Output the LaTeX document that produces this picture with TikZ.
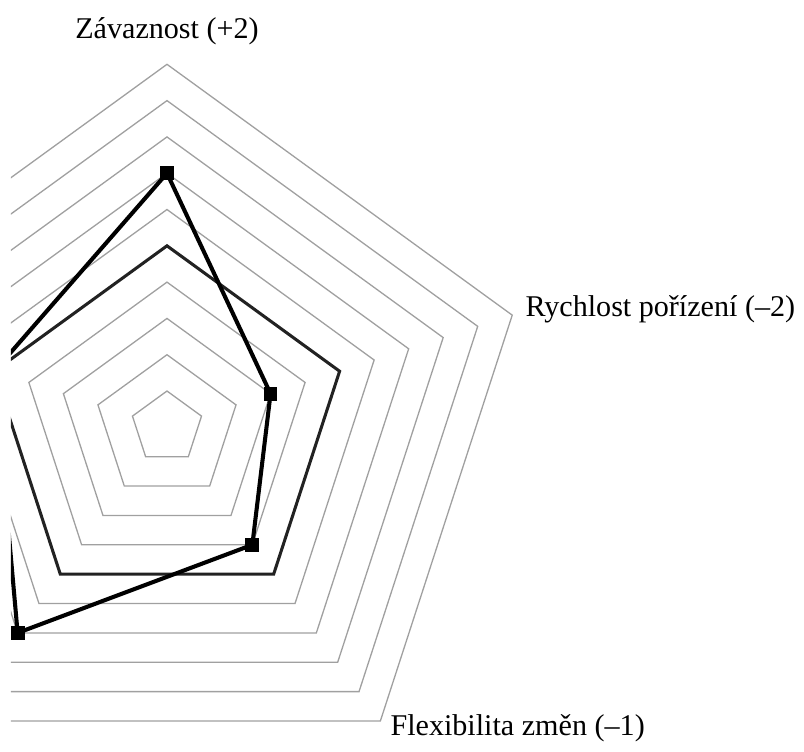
\documentclass[tikz,border=0pt]{standalone}
\usepackage{fontspec}
\setmainfont{Liberation Serif}
\begin{document}
\begin{tikzpicture}[
    ringline/.style={line width=0.018cm, draw={rgb,255:red,160;green,160;blue,160}, line join=miter},
    zeroring/.style={line width=0.042cm, draw={rgb,255:red,34;green,34;blue,34}, line join=miter},
    dataline/.style={line width=0.056cm, draw=black, line join=miter},
    datapoint/.style={draw=none, fill=black, inner sep=0pt, minimum size=0.19cm, rectangle},
    axislabel/.style={inner sep=0pt, font=\fontsize{11.8}{14}\selectfont}
  ]
  \useasboundingbox (-2.300,-4.459) rectangle (8.774,5.886);
  \begin{scope}
    \clip (-2.149,-4.459) rectangle (8.774,5.886);

    % Drawing rings 1 to 4
    \draw [ringline] (90:0.5) -- (18:0.5) -- (-54:0.5) -- (-126:0.5) -- (162:0.5) -- cycle;%
    \draw [ringline] (90:1.0) -- (18:1.0) -- (-54:1.0) -- (-126:1.0) -- (162:1.0) -- cycle;%
    \draw [ringline] (90:1.5) -- (18:1.5) -- (-54:1.5) -- (-126:1.5) -- (162:1.5) -- cycle;%
    \draw [ringline] (90:2.0) -- (18:2.0) -- (-54:2.0) -- (-126:2.0) -- (162:2.0) -- cycle;%

    % Drawing ring 5 (zero level)
    \draw [zeroring] (90:2.5) -- (18:2.5) -- (-54:2.5) -- (-126:2.5) -- (162:2.5) -- cycle;%

    % Drawing rings 6 to 10
    \draw [ringline] (90:3.0) -- (18:3.0) -- (-54:3.0) -- (-126:3.0) -- (162:3.0) -- cycle;%
    \draw [ringline] (90:3.5) -- (18:3.5) -- (-54:3.5) -- (-126:3.5) -- (162:3.5) -- cycle;%
    \draw [ringline] (90:4.0) -- (18:4.0) -- (-54:4.0) -- (-126:4.0) -- (162:4.0) -- cycle;%
    \draw [ringline] (90:4.5) -- (18:4.5) -- (-54:4.5) -- (-126:4.5) -- (162:4.5) -- cycle;%
    \draw [ringline] (90:5.0) -- (18:5.0) -- (-54:5.0) -- (-126:5.0) -- (162:5.0) -- cycle;%

    % Marking data points
    \node [datapoint] (zavaznost) at (90:3.5) {};%
    \node [datapoint] (rychlost) at (18:1.5) {};%
    \node [datapoint] (flexibilita) at (-54:2.0) {};%
    \node [datapoint] (dolni) at (-126:3.5) {};%
    \node [datapoint] (leva) at (162:2.5) {};%

    % Drawing data polygon
    \draw [dataline] (zavaznost.center) -- (rychlost.center) -- (flexibilita.center) -- (dolni.center) -- (leva.center) -- cycle;%
  \end{scope}

  % Axis labels
  \node [axislabel, anchor=base] (lzav) at (0.000,5.358) {Závaznost (+2)};%
  \node [axislabel, anchor=base west] (lrych) at (4.931,1.523) {Rychlost pořízení (–2)};%
  \node [axislabel, anchor=base west] (lflex) at (3.072,-4.238) {Flexibilita změn (–1)};%
\end{tikzpicture}
\end{document}
